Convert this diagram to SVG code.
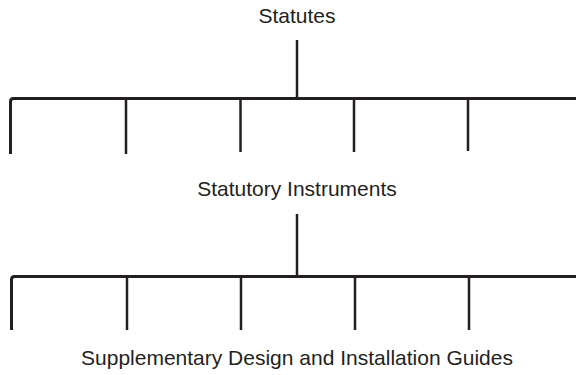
<svg xmlns="http://www.w3.org/2000/svg" width="576" height="375" viewBox="0 0 576 375">
<style>
text{font-family:"Liberation Sans",Arial,sans-serif;font-size:21px;fill:#231f20;text-anchor:middle}
.bar{stroke:#231f20;stroke-width:3;fill:none;stroke-linejoin:round}
.drop{stroke:#231f20;stroke-width:2.5;fill:none}
</style>
<rect width="576" height="375" fill="#fff"/>
<g id="statutes"><text x="297" y="23">Statutes</text></g>
<g id="statutory-instruments"><text x="297" y="196">Statutory Instruments</text></g>
<g id="guides"><text x="297" y="365">Supplementary Design and Installation Guides</text></g>
<g id="connectors">
<path class="drop" d="M297 40V98"/>
<path class="bar" d="M10.5 154V101.5Q10.5 98.5 13.5 98.5H576"/>
<path class="drop" d="M126 99V154M240.5 99V152M354 99V152M468 99V151"/>
<path class="drop" d="M297 214V276"/>
<path class="bar" d="M11.5 330V279.5Q11.5 276.5 14.5 276.5H576"/>
<path class="drop" d="M127 277V330M241 277V330M355 277V330M469 277V330"/>
</g>
</svg>
